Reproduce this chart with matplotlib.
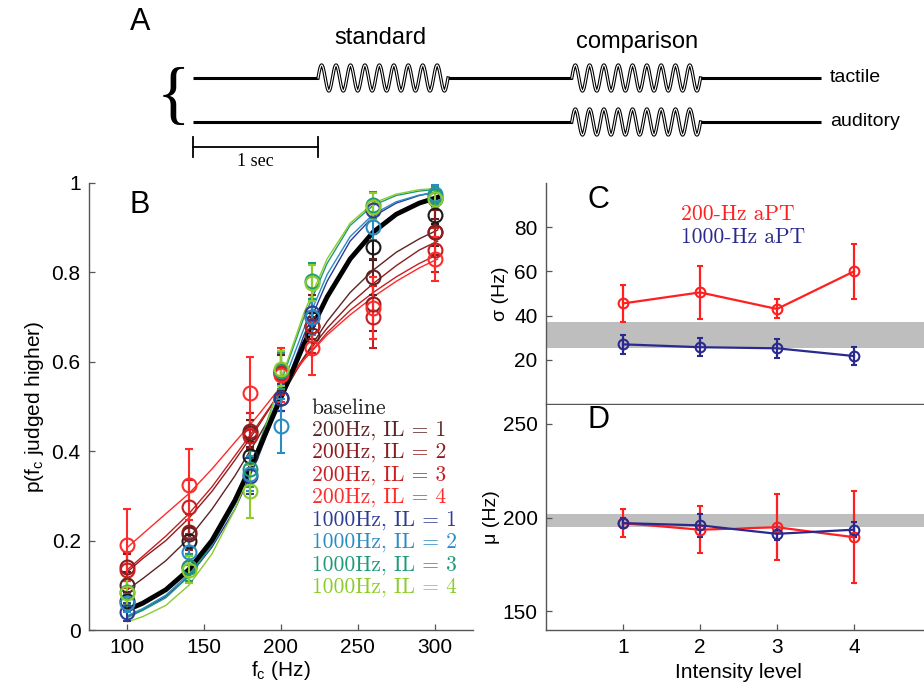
import numpy as np
import matplotlib.pyplot as plt

plt.rcParams['font.family'] = ['Liberation Sans', 'DejaVu Sans']
plt.rcParams['mathtext.fontset'] = 'custom'
plt.rcParams['mathtext.rm'] = 'Liberation Sans'
plt.rcParams['mathtext.it'] = 'Liberation Sans:italic'

# ---- panel B: psychometric data ----
fc = [100, 140, 180, 200, 220, 260, 300]
legend_labels = ['baseline', '200Hz, IL = 1', '200Hz, IL = 2', '200Hz, IL = 3', '200Hz, IL = 4',
                 '1000Hz, IL = 1', '1000Hz, IL = 2', '1000Hz, IL = 3', '1000Hz, IL = 4']
colors = ['#1a1a1a', '#5c2323', '#8e1c1c', '#c81e22', '#ff2a2a',
          '#2d3b96', '#2b8cc4', '#1f9a78', '#8ccc2c']

p_base = [0.065, 0.20, 0.39, 0.52, 0.68, 0.857, 0.928]
p_200_1 = [0.10, 0.215, 0.44, 0.575, 0.66, 0.79, 0.89]
p_200_2 = [0.14, 0.22, 0.445, 0.58, 0.70, 0.73, 0.89]
p_200_3 = [0.135, 0.275, 0.435, 0.575, 0.68, 0.70, 0.85]
p_200_4 = [0.19, 0.325, 0.53, 0.57, 0.63, 0.72, 0.83]
p_1000_1 = [0.04, 0.14, 0.345, 0.52, 0.71, 0.94, 0.965]
p_1000_2 = [0.06, 0.175, 0.35, 0.456, 0.70, 0.902, 0.975]
p_1000_3 = [0.085, 0.14, 0.36, 0.58, 0.78, 0.95, 0.97]
p_1000_4 = [0.083, 0.135, 0.31, 0.585, 0.776, 0.947, 0.965]

e_base = [0.02, 0.03, 0.03, 0.03, 0.03, 0.03, 0.02]
e_200_1 = [0.03, 0.03, 0.03, 0.04, 0.04, 0.04, 0.03]
e_200_2 = [0.03, 0.04, 0.04, 0.05, 0.05, 0.06, 0.05]
e_200_3 = [0.04, 0.06, 0.05, 0.05, 0.06, 0.07, 0.05]
e_200_4 = [0.08, 0.08, 0.08, 0.06, 0.06, 0.07, 0.05]
e_1000_1 = [0.02, 0.03, 0.04, 0.03, 0.03, 0.02, 0.02]
e_1000_2 = [0.02, 0.03, 0.04, 0.06, 0.04, 0.03, 0.02]
e_1000_3 = [0.03, 0.03, 0.04, 0.04, 0.04, 0.03, 0.02]
e_1000_4 = [0.03, 0.03, 0.06, 0.04, 0.04, 0.03, 0.02]

# fitted curves
fit_x = [100, 110, 125, 140, 155, 170, 185, 200, 215, 230, 245, 260, 275, 290, 302]
fit_base = [0.045, 0.06, 0.09, 0.135, 0.20, 0.29, 0.40, 0.52, 0.64, 0.745, 0.83, 0.89, 0.93, 0.955, 0.968]
fit_200_1 = [0.09, 0.115, 0.155, 0.205, 0.27, 0.345, 0.43, 0.52, 0.61, 0.69, 0.755, 0.805, 0.845, 0.875, 0.895]
fit_200_2 = [0.13, 0.16, 0.20, 0.25, 0.31, 0.38, 0.455, 0.535, 0.61, 0.675, 0.73, 0.775, 0.815, 0.85, 0.87]
fit_200_3 = [0.135, 0.165, 0.21, 0.26, 0.32, 0.39, 0.46, 0.535, 0.605, 0.665, 0.715, 0.755, 0.79, 0.82, 0.84]
fit_200_4 = [0.185, 0.215, 0.26, 0.305, 0.36, 0.42, 0.48, 0.545, 0.605, 0.66, 0.705, 0.745, 0.78, 0.81, 0.83]
fit_1000_1 = [0.03, 0.045, 0.075, 0.12, 0.185, 0.27, 0.385, 0.52, 0.66, 0.78, 0.87, 0.925, 0.955, 0.972, 0.98]
fit_1000_2 = [0.032, 0.048, 0.078, 0.125, 0.19, 0.28, 0.40, 0.54, 0.675, 0.795, 0.88, 0.93, 0.958, 0.973, 0.98]
fit_1000_3 = [0.028, 0.044, 0.072, 0.12, 0.19, 0.285, 0.41, 0.555, 0.70, 0.82, 0.905, 0.95, 0.972, 0.982, 0.986]
fit_1000_4 = [0.018, 0.03, 0.055, 0.10, 0.17, 0.27, 0.40, 0.56, 0.71, 0.83, 0.91, 0.955, 0.975, 0.985, 0.988]

p_all = [p_base, p_200_1, p_200_2, p_200_3, p_200_4, p_1000_1, p_1000_2, p_1000_3, p_1000_4]
e_all = [e_base, e_200_1, e_200_2, e_200_3, e_200_4, e_1000_1, e_1000_2, e_1000_3, e_1000_4]
fit_all = [fit_base, fit_200_1, fit_200_2, fit_200_3, fit_200_4, fit_1000_1, fit_1000_2, fit_1000_3, fit_1000_4]

# ---- panels C, D ----
levels = [1, 2, 3, 4]
sigma_200 = [45.5, 50.5, 43.0, 60.0]
sigma_200_err = [8.5, 12.0, 4.3, 12.5]
sigma_1000 = [27.0, 25.7, 25.2, 21.7]
sigma_1000_err = [4.2, 4.2, 4.4, 4.0]
mu_200 = [197.0, 193.5, 194.8, 189.5]
mu_200_err = [7.5, 12.5, 17.5, 24.5]
mu_1000 = [197.0, 195.8, 191.3, 193.5]
mu_1000_err = [2.5, 6.0, 3.5, 4.0]
sigma_band = [25.3, 37.1]
mu_band = [195.0, 202.0]

RED = '#ff1f1f'
NAVY = '#2a2a8e'
W, H = 924, 696

fig = plt.figure(figsize=(W / 100, H / 100), dpi=100)


def style(ax):
    for s in ['top', 'right']:
        ax.spines[s].set_visible(False)
    for s in ['left', 'bottom']:
        ax.spines[s].set_color('#555555')
        ax.spines[s].set_linewidth(1.0)
    ax.tick_params(direction='in', length=4, width=0.9, color='#555555',
                   labelsize=15, pad=6)


# ---- panel A (schematic) ----
axA = fig.add_axes([0, 1 - 175 / H, 1, 175 / H])
axA.set_xlim(0, W)
axA.set_ylim(175, 0)
axA.axis('off')

t0, px_sec = 193, 125
trace_end = 5.02
tactile_bursts = [(1.0, 2.04), (3.03, 4.06)]
auditory_bursts = [(3.03, 4.06)]
n_cycles = 9
amp = 13


def draw_trace(yc, bursts):
    edges = [0.0]
    for b in bursts:
        edges += [b[0], b[1]]
    edges.append(trace_end)
    for i in range(0, len(edges), 2):
        axA.plot([t0 + px_sec * edges[i], t0 + px_sec * edges[i + 1]], [yc, yc],
                 color='black', lw=2.2, solid_capstyle='butt')
    for b in bursts:
        xs = np.linspace(t0 + px_sec * b[0], t0 + px_sec * b[1], 500)
        ph = (xs - xs[0]) / (xs[-1] - xs[0])
        ys = yc - amp * np.sin(2 * np.pi * n_cycles * ph)
        axA.plot(xs, ys, color='black', lw=2.4)
        axA.plot(xs, ys, color='white', lw=0.8)


draw_trace(78, tactile_bursts)
draw_trace(122, auditory_bursts)
axA.text(830, 77, 'tactile', fontsize=14, va='center', ha='left')
axA.text(830, 121, 'auditory', fontsize=14, va='center', ha='left')
axA.text(t0 + px_sec * 1.5, 38, 'standard', fontsize=17, ha='center', va='center')
axA.text(t0 + px_sec * 3.55, 42, 'comparison', fontsize=17, ha='center', va='center')
axA.text(173, 99, '{', fontsize=50, ha='center', va='center',
         family=['Liberation Serif', 'DejaVu Serif'])
axA.plot([t0, t0 + px_sec], [147, 147], color='black', lw=1.3)
axA.plot([t0, t0], [137, 157], color='black', lw=1.3)
axA.plot([t0 + px_sec, t0 + px_sec], [137, 157], color='black', lw=1.3)
axA.text(t0 + px_sec / 2, 161, '1 sec', fontsize=13, ha='center', va='center',
         family=['Liberation Serif', 'DejaVu Serif'])
fig.text(140 / W, 1 - 22 / H, 'A', fontsize=22, ha='center', va='center')

# ---- panel B ----
axB = fig.add_axes([89 / W, 66 / H, 384 / W, 447 / H])
style(axB)
for k in range(1, 9):
    axB.plot(fit_x, fit_all[k], color=colors[k], lw=1.0, zorder=2)
axB.plot(fit_x, fit_all[0], color='black', lw=3.5, zorder=3)
for k in range(9):
    axB.errorbar(fc, p_all[k], yerr=e_all[k], fmt='o', color=colors[k], mfc='none',
                 ms=10, mew=1.5, elinewidth=1.5, capsize=3, capthick=1.5, zorder=4)
axB.set_xlim(75, 325)
axB.set_ylim(0, 1)
axB.set_xticks([100, 150, 200, 250, 300])
yticks = [0, 0.2, 0.4, 0.6, 0.8, 1]
ytick_labels = ['0', '0.2', '0.4', '0.6', '0.8', '1']
axB.set_yticks(yticks)
axB.set_yticklabels(ytick_labels)
axB.set_xlabel(r'f$_\mathrm{c}$ (Hz)', fontsize=15, labelpad=1)
axB.set_ylabel(r'p(f$_\mathrm{c}$ judged higher)', fontsize=15, labelpad=4)
for k in range(9):
    axB.text(220.1, 0.497 - 0.0502 * k, legend_labels[k], color=colors[k], fontsize=15.5,
             family='cmr10', ha='left', va='center')
fig.text(140 / W, 1 - 205 / H, 'B', fontsize=22, ha='center', va='center')

# ---- panel C ----
axC = fig.add_axes([546 / W, 292 / H, 385 / W, 221 / H])
style(axC)
axC.axhspan(sigma_band[0], sigma_band[1], color='#bebebe', lw=0, zorder=1)
axC.errorbar(levels, sigma_200, yerr=sigma_200_err, fmt='-o', color=RED, mfc='none',
             ms=7, mew=1.5, lw=1.6, capsize=2, capthick=1.5, zorder=3)
axC.errorbar(levels, sigma_1000, yerr=sigma_1000_err, fmt='-o', color=NAVY, mfc='none',
             ms=7, mew=1.5, lw=1.6, capsize=2, capthick=1.5, zorder=3)
axC.set_xlim(0, 5)
axC.set_ylim(0, 100)
axC.set_xticks([])
axC.set_yticks([20, 40, 60, 80])
axC.set_ylabel('σ (Hz)', fontsize=14, labelpad=4)
axC.text(1.75, 86, '200-Hz aPT', color=RED, fontsize=15.5, family='cmr10', va='center')
axC.text(1.75, 75.6, '1000-Hz aPT', color=NAVY, fontsize=15.5, family='cmr10', va='center')
fig.text(598 / W, 1 - 200 / H, 'C', fontsize=22, ha='center', va='center')

# ---- panel D ----
axD = fig.add_axes([546 / W, 66 / H, 385 / W, 225 / H])
style(axD)
axD.axhspan(mu_band[0], mu_band[1], color='#bebebe', lw=0, zorder=1)
axD.errorbar(levels, mu_200, yerr=mu_200_err, fmt='-o', color=RED, mfc='none',
             ms=7, mew=1.5, lw=1.6, capsize=2, capthick=1.5, zorder=3)
axD.errorbar(levels, mu_1000, yerr=mu_1000_err, fmt='-o', color=NAVY, mfc='none',
             ms=7, mew=1.5, lw=1.6, capsize=2, capthick=1.5, zorder=3)
axD.set_xlim(0, 5)
axD.set_ylim(140, 260)
axD.set_xticks(levels)
axD.set_yticks([150, 200, 250])
axD.set_xlabel('Intensity level', fontsize=15, labelpad=4)
axD.set_ylabel('μ (Hz)', fontsize=14, labelpad=2)
fig.text(598 / W, 1 - 420 / H, 'D', fontsize=22, ha='center', va='center')

fig.savefig('out.png', dpi=100)
